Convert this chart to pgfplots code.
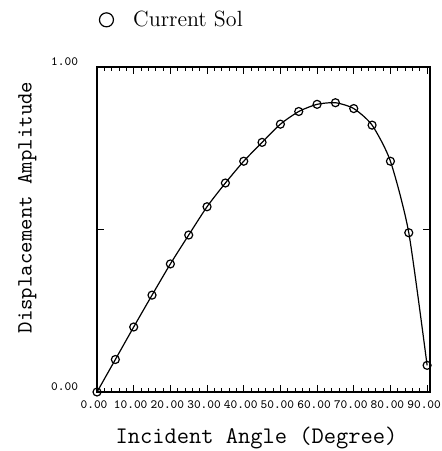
\documentclass[border=0pt]{standalone}
\usepackage{fontspec}
\usepackage{pgfplots}
\pgfplotsset{compat=1.18}
\begin{document}
\begin{tikzpicture}
\begin{axis}[
  name=ax,
  scale only axis,
  width=166.5pt, height=162.5pt,
  xmin=0, xmax=90.8, ymin=0, ymax=1,
  xtick={0,10,...,90},
  xticklabels={0.00,10.00,20.00,30.00,40.00,50.00,60.00,70.00,80.00,90.00},
  minor x tick num=4,
  ytick={0,0.5,1},
  yticklabels={0.00,,1.00},
  tick align=inside,
  major tick length=3.4pt,
  minor tick length=2pt,
  every tick/.style={black, line width=0.5pt},
  axis line style={line width=0.6pt},
  tick label style={font=\ttfamily\fontsize{6.3}{8}\selectfont},
  xticklabel style={yshift=-1pt, xshift=-1.5pt},
  yticklabel style={xshift=-6pt, yshift=2.5pt},
  xlabel={\ttfamily\fontsize{11.9}{13}\selectfont Incident Angle (Degree)},
  ylabel={\ttfamily\fontsize{10.9}{13}\selectfont Displacement Amplitude},
  xlabel style={yshift=-2pt, xshift=-3.5pt},
  ylabel style={yshift=0.5pt, xshift=11pt},
  legend style={draw=none, fill=none, at={(-0.007,1.145)}, anchor=west,
    inner sep=0pt},
  legend image code/.code={\path[draw=none] (0cm,0cm) -- (0.6cm,0cm);
    \draw[line width=0.6pt] plot[mark=o, mark size=3.5pt] coordinates {(0.2cm,0cm)};},
]
\addplot[black, line width=0.6pt, smooth, tension=0.4, mark=o, mark size=2pt,
  mark options={line width=0.6pt}] coordinates {
  (0,0) (5,0.100) (10,0.200) (15,0.298) (20,0.394) (25,0.483)
  (30,0.570) (35,0.643) (40,0.710) (45,0.768) (50,0.824)
  (55,0.863) (60,0.885) (65,0.890) (70,0.872) (75,0.821)
  (80,0.710) (85,0.490) (90,0.082)
};
\addlegendentry{\fontsize{11}{13}\selectfont Current Sol}
\coordinate (BL) at (rel axis cs:-0.2913,-0.1815);
\coordinate (TR) at (rel axis cs:1.033,1.206);
\end{axis}
\pgfresetboundingbox
\path (BL) rectangle (TR);
\end{tikzpicture}
\end{document}
